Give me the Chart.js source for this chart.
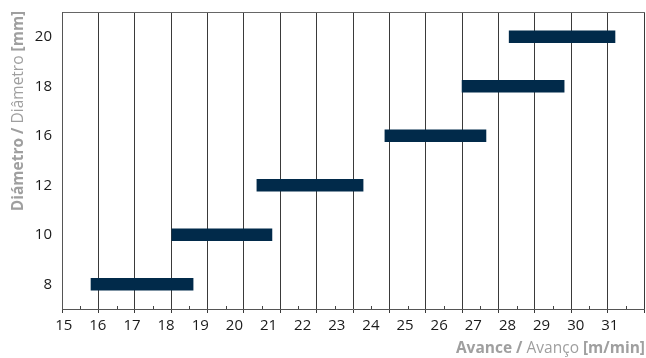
<!DOCTYPE html>
<html>
<head>
<meta charset="utf-8">
<script src="https://cdn.jsdelivr.net/npm/chart.js@4/dist/chart.umd.min.js"></script>
<style>
html,body{margin:0;padding:0;background:#fff;}
#c{display:block;}
</style>
</head>
<body>
<canvas id="c" width="646" height="358"></canvas>
<script>
// Diameters (mm), top to bottom
const categories = ['20', '18', '16', '12', '10', '8'];
// Feed range (m/min) for each diameter
const feedStart = [28.05, 26.67, 24.41, 20.66, 18.17, 15.80];
const feedEnd   = [31.15, 29.66, 27.37, 23.77, 21.10, 18.79];
// Axis tick labels
const xTickMin = 15;
const xTickMax = 31;
const yTitleParts = [['Diámetro', 'bold'], [' / ', 'bold'], ['Diâmetro', 'normal'], [' [mm]', 'bold']];
const xTitleParts = [['Avance', 'bold'], [' / ', 'bold'], ['Avanço', 'normal'], [' [m/min]', 'bold']];

const FONT = "'Open Sans', 'Noto Sans', sans-serif";
const TITLE_SIZE = 15.5;
const barColor = '#012a4a';
const titleColor = '#9f9f9f';

const ranges = categories.map((c, i) => [feedStart[i], feedEnd[i]]);

function measureParts(ctx, parts, size) {
  let total = 0;
  const widths = parts.map(p => { ctx.font = p[1] + ' ' + size + 'px ' + FONT; const w = ctx.measureText(p[0]).width; total += w; return w; });
  return {widths, total};
}

const titlePlugin = {
  id: 'titles',
  afterDraw(chart) {
    const ctx = chart.ctx;
    ctx.save();
    ctx.fillStyle = titleColor;
    ctx.textBaseline = 'alphabetic';
    ctx.textAlign = 'left';
    // Y title (rotated)
    let m = measureParts(ctx, yTitleParts, TITLE_SIZE);
    ctx.save();
    ctx.translate(23, 111 + m.total / 2);
    ctx.rotate(-Math.PI / 2);
    let x = 0;
    yTitleParts.forEach((p, i) => { ctx.font = p[1] + ' ' + TITLE_SIZE + 'px ' + FONT; ctx.fillText(p[0], x, 0); x += m.widths[i]; });
    ctx.restore();
    // X title (right aligned)
    m = measureParts(ctx, xTitleParts, TITLE_SIZE);
    x = 645 - m.total;
    xTitleParts.forEach((p, i) => { ctx.font = p[1] + ' ' + TITLE_SIZE + 'px ' + FONT; ctx.fillText(p[0], x, 353); x += m.widths[i]; });
    // minor ticks on the grid axis
    const s = chart.scales.xg;
    const b = chart.chartArea.bottom;
    ctx.strokeStyle = '#444';
    ctx.lineWidth = 1;
    for (let v = xTickMin; v < xTickMax; v++) {
      const px = Math.round(s.getPixelForValue(v + 0.5)) + 0.5;
      ctx.beginPath(); ctx.moveTo(px, b - 3); ctx.lineTo(px, b); ctx.stroke();
    }
    ctx.restore();
  }
};

new Chart(document.getElementById('c'), {
  type: 'bar',
  data: {
    labels: categories,
    datasets: [{
      data: ranges,
      backgroundColor: barColor,
      borderWidth: 0,
      barThickness: 12,
      xAxisID: 'x',
      yAxisID: 'y'
    }]
  },
  options: {
    indexAxis: 'y',
    responsive: false,
    animation: false,
    layout: { padding: { top: 12, right: 2, left: 0, bottom: 0 } },
    plugins: { legend: { display: false }, tooltip: { enabled: false } },
    scales: {
      xg: {
        type: 'linear', position: 'bottom', min: xTickMin, max: xTickMax,
        ticks: { display: false, stepSize: 1 },
        grid: { color: '#3a3a3a', lineWidth: 1, drawTicks: true, tickLength: 4, tickColor: '#3a3a3a' },
        border: { display: true, color: '#555', width: 1 },
        afterFit(s) { s.height = 4; s.paddingLeft = 0; s.paddingRight = 0; }
      },
      x: {
        type: 'linear', position: 'bottom', min: 14.95, max: 32,
        ticks: {
          stepSize: 1, includeBounds: false, padding: 4,
          color: '#1a1a1a', font: { family: FONT, size: 15 },
          maxRotation: 0, autoSkip: false,
          callback: v => (v >= xTickMin && v <= xTickMax) ? String(v) : ''
        },
        grid: { display: false, drawTicks: false },
        border: { display: false },
        afterFit(s) { s.height = 45; s.paddingLeft = 0; s.paddingRight = 0; }
      },
      xt: {
        type: 'linear', position: 'top', min: xTickMin, max: xTickMax,
        ticks: { display: false },
        grid: { display: false, drawTicks: false },
        border: { display: true, color: '#666', width: 1 },
        afterFit(s) { s.height = 0; s.paddingLeft = 0; s.paddingRight = 0; }
      },
      y: {
        type: 'category', position: 'left', offset: true,
        ticks: { padding: 10, color: '#1a1a1a', font: { family: FONT, size: 15 } },
        grid: { display: false, drawTicks: false },
        border: { display: true, color: '#555', width: 1 },
        afterFit(s) { s.width = 62; s.paddingTop = 0; s.paddingBottom = 0; }
      }
    }
  },
  plugins: [titlePlugin]
});
</script>
</body>
</html>
